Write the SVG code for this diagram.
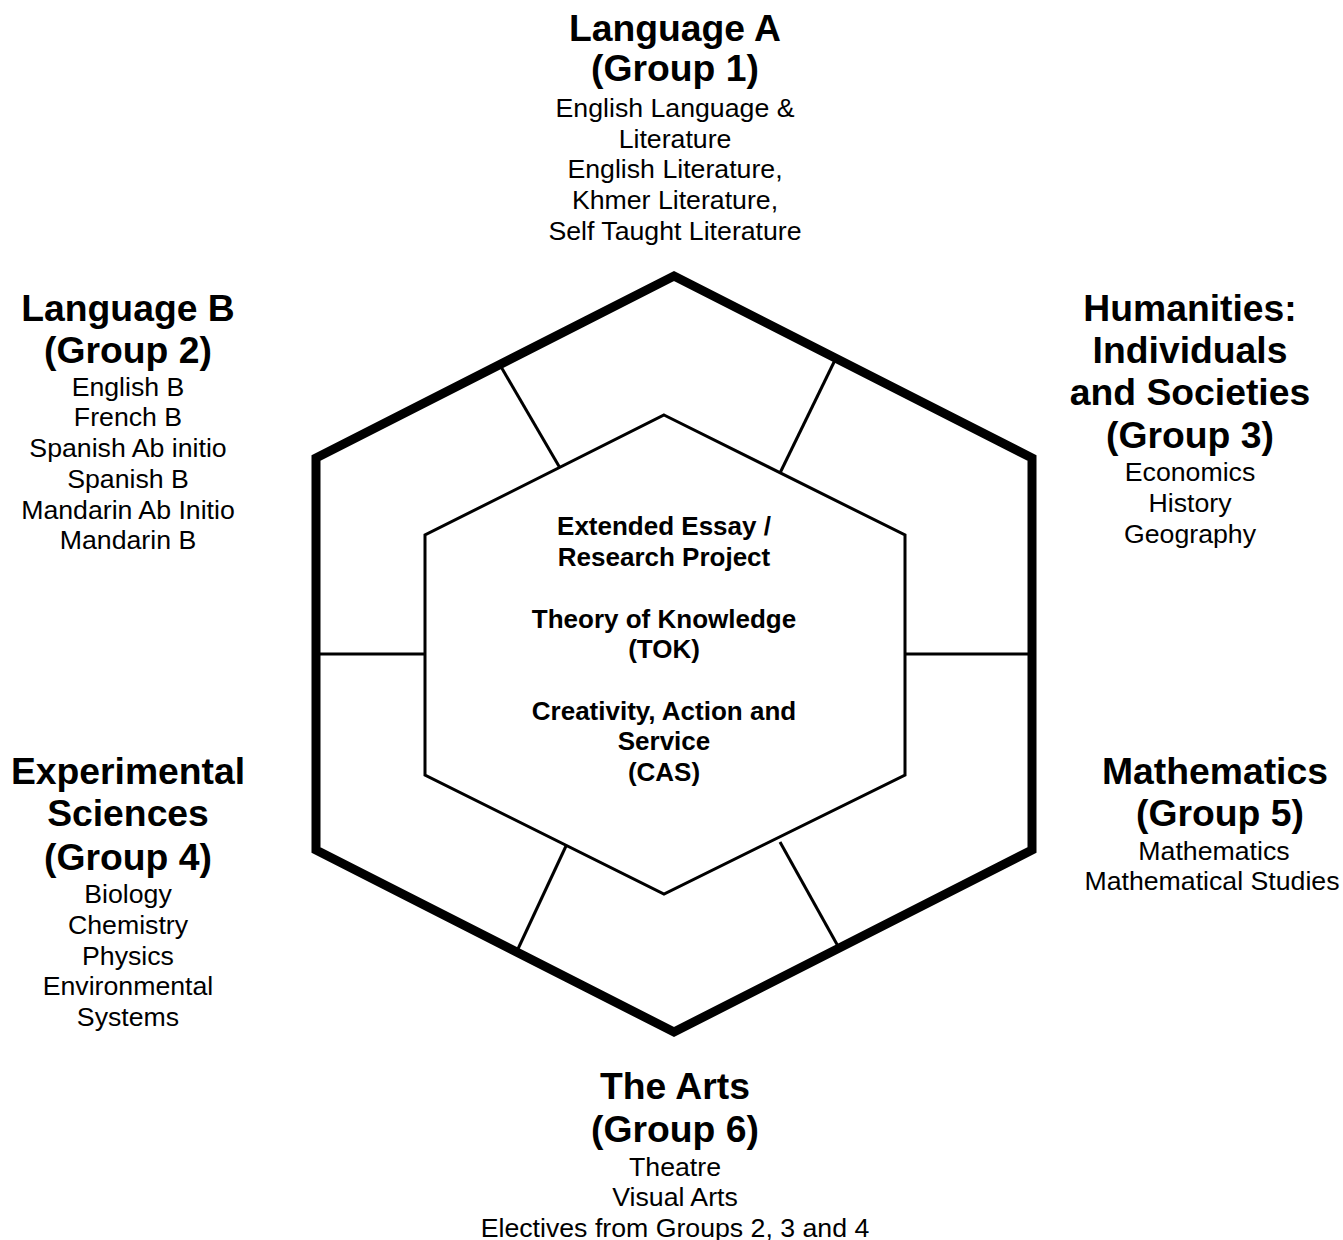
<svg xmlns="http://www.w3.org/2000/svg" width="1343" height="1240" viewBox="0 0 1343 1240">
<style>
text{font-family:"Liberation Sans",Arial,sans-serif;fill:#000;text-anchor:middle}
.t{font-size:37.3px;font-weight:bold}
.b{font-size:26.7px}
.c{font-size:26px;font-weight:bold}
.div{stroke:#000;stroke-width:3;fill:none}
</style>
<rect width="1343" height="1240" fill="#fff"/>
<g id="connectors">
<line class="div" x1="500" y1="365" x2="560" y2="468"/>
<line class="div" x1="836" y1="358" x2="780" y2="473"/>
<line class="div" x1="316" y1="654" x2="425" y2="654"/>
<line class="div" x1="905" y1="654" x2="1032" y2="654"/>
<line class="div" x1="566" y1="846" x2="517" y2="951"/>
<line class="div" x1="780" y1="842" x2="839" y2="948"/>
</g>
<g id="outer-hexagon">
<polygon points="674,276 1032,458 1032,850 674,1032 316,850 316,458" fill="none" stroke="#000" stroke-width="9" stroke-linejoin="miter"/>
</g>
<g id="core">
<polygon points="664,415 905,535 905,775 664,894 425,775 425,535" fill="none" stroke="#000" stroke-width="3"/>
<text class="c" x="664" y="534.5">Extended Essay /</text>
<text class="c" x="664" y="565.5">Research Project</text>
<text class="c" x="664" y="627.5">Theory of Knowledge</text>
<text class="c" x="664" y="657.5">(TOK)</text>
<text class="c" x="664" y="719.5">Creativity, Action and</text>
<text class="c" x="664" y="749.5">Service</text>
<text class="c" x="664" y="780.5">(CAS)</text>
</g>
<g id="group1">
<text class="t" x="675" y="41.4">Language A</text>
<text class="t" x="675" y="81.4">(Group 1)</text>
<text class="b" x="675" y="116.5">English Language &amp;</text>
<text class="b" x="675" y="147.5">Literature</text>
<text class="b" x="675" y="177.5">English Literature,</text>
<text class="b" x="675" y="208.5">Khmer Literature,</text>
<text class="b" x="675" y="239.5">Self Taught Literature</text>
</g>
<g id="group2">
<text class="t" x="128" y="321">Language B</text>
<text class="t" x="128" y="363">(Group 2)</text>
<text class="b" x="128" y="395.5">English B</text>
<text class="b" x="128" y="425.5">French B</text>
<text class="b" x="128" y="456.5">Spanish Ab initio</text>
<text class="b" x="128" y="487.5">Spanish B</text>
<text class="b" x="128" y="518.5">Mandarin Ab Initio</text>
<text class="b" x="128" y="548.5">Mandarin B</text>
</g>
<g id="group3">
<text class="t" x="1190" y="321">Humanities:</text>
<text class="t" x="1190" y="363">Individuals</text>
<text class="t" x="1190" y="405">and Societies</text>
<text class="t" x="1190" y="448">(Group 3)</text>
<text class="b" x="1190" y="480.5">Economics</text>
<text class="b" x="1190" y="511.5">History</text>
<text class="b" x="1190" y="542.5">Geography</text>
</g>
<g id="group4">
<text class="t" x="128" y="784">Experimental</text>
<text class="t" x="128" y="826">Sciences</text>
<text class="t" x="128" y="870">(Group 4)</text>
<text class="b" x="128" y="902.5">Biology</text>
<text class="b" x="128" y="933.5">Chemistry</text>
<text class="b" x="128" y="964.5">Physics</text>
<text class="b" x="128" y="994.5">Environmental</text>
<text class="b" x="128" y="1025.5">Systems</text>
</g>
<g id="group5">
<text class="t" x="1215" y="784">Mathematics</text>
<text class="t" x="1220" y="826">(Group 5)</text>
<text class="b" x="1214" y="859.5">Mathematics</text>
<text class="b" x="1212" y="889.5">Mathematical Studies</text>
</g>
<g id="group6">
<text class="t" x="675" y="1099">The Arts</text>
<text class="t" x="675" y="1142">(Group 6)</text>
<text class="b" x="675" y="1175.5">Theatre</text>
<text class="b" x="675" y="1205.5">Visual Arts</text>
<text class="b" x="675" y="1236.5">Electives from Groups 2, 3 and 4</text>
</g>
</svg>
